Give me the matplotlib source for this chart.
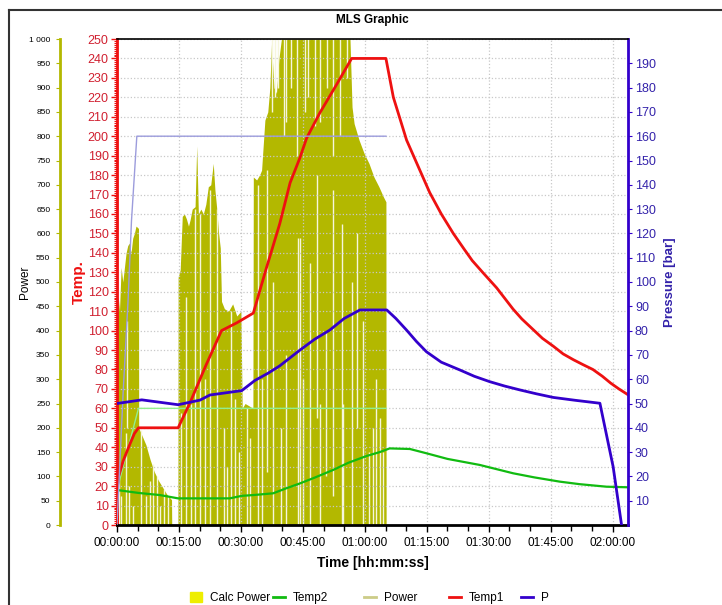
import matplotlib
matplotlib.use("Agg")
import matplotlib.pyplot as plt
from matplotlib.ticker import MultipleLocator, FixedLocator, FuncFormatter
from matplotlib.lines import Line2D
from matplotlib.patches import Patch

plt.rcParams["font.family"] = ["Liberation Sans", "DejaVu Sans"]

# Temp1 [deg] over time [min]
t1_time = [0, 0.1, 0.4, 1.5, 3.0, 4.2, 5.2, 14.8, 17.7, 21.5, 25.3, 29.0, 33.0, 36.0,
           39.4, 41.9, 44.3, 45.9, 49.1, 53.0, 56.8, 65.1, 66.9, 68.5, 70.1, 73.0,
           75.7, 78.5, 81.4, 84.0, 86.0, 88.5, 91.9, 95.9, 98.0, 100.5, 103.0, 105.6,
           108.0, 110.5, 112.8, 115.2, 117.5, 119.5, 121.5, 123.7]
t1_vals = [0, 20, 25, 33, 41, 47, 50, 50, 63, 82, 100, 104, 109, 131,
           155, 176, 189, 199, 212, 226, 240, 240, 220, 209, 198, 184,
           171, 160, 150, 142, 136, 130, 122, 111, 106, 101, 96, 92,
           88, 85, 82.5, 80, 76.5, 73, 70, 67]

# Temp2 [deg]
t2_time = [0, 5.2, 10.4, 14.8, 27.3, 30.2, 33.0, 37.8, 41.0, 44.3, 48.0, 52.3, 56.0,
           60.4, 63.6, 66.0, 70.9, 74.9, 80.0, 87.8, 95.9, 101.0, 107.2, 112.0,
           118.5, 123.7]
t2_vals = [18, 16.5, 15.4, 13.7, 13.7, 15.0, 15.4, 16.3, 18.9, 21.4, 24.5, 28.3, 32.0,
           35.5, 37.5, 39.4, 39.1, 36.9, 34.0, 30.9, 26.6, 24.5, 22.3, 21.0,
           19.7, 19.4]

# P [bar]
p_time = [0, 6.0, 14.8, 20.1, 22.5, 30.2, 33.4, 36.6, 39.4, 44.3, 47.9, 51.5, 55.0,
          58.8, 65.3, 67.5, 70.1, 72.5, 74.9, 78.5, 83.0, 86.5, 90.2, 93.8, 97.5,
          101.5, 105.6, 111.0, 116.9, 120.1, 122.1]
p_vals = [50, 51.5, 49.5, 51.4, 53.5, 55.3, 59.5, 62.5, 65.5, 72, 76.5, 80.2, 85,
          88.5, 88.5, 85, 80.2, 75.5, 71.3, 67, 63.8, 61.2, 59.0, 57.2, 55.6,
          54, 52.5, 51.3, 50.1, 24.0, 0.5]

# setpoints (thin lines)
sp_p_time = [0, 0.5, 1.5, 2.7, 3.5, 4.8, 65.1]
sp_p_vals = [0, 18, 55, 93, 125, 160, 160]
sp_t2_time = [0, 5.2, 65.1]
sp_t2_vals = [18, 60, 60]

# Power [W], upper envelope
pw_time = [0, 0.3, 0.6, 1.0, 1.4, 1.8, 2.2, 2.6, 3.0, 3.4, 3.8, 4.2, 4.6, 5.0, 5.2,
           5.25, 6.0, 7.0, 8.0, 9.0, 10.0, 11.0, 12.0, 13.2, 13.25,
           14.75, 14.8, 15.3, 15.8, 16.3, 16.8, 17.3, 17.7, 18.2, 18.9, 19.3, 19.7,
           20.3, 20.9, 21.5, 22.1, 22.7, 23.3, 23.7, 24.1, 24.6, 25.0, 25.3, 26.0,
           27.0, 28.0, 29.0, 30.0, 30.3, 31.0, 32.0, 32.9, 33.0, 33.8, 34.5, 35.0,
           35.8, 36.5, 37.0, 37.4, 38.0, 38.6, 39.2, 39.8, 56.4, 56.9, 57.4, 58.6,
           59.8, 61.0, 62.2, 63.4, 64.5, 65.1, 65.15]
pw_vals = [430, 470, 440, 530, 500, 530, 560, 575, 580, 560, 590, 600, 615, 612, 610,
           200, 185, 165, 135, 110, 92, 78, 64, 52, 0,
           0, 510, 525, 635, 640, 630, 615, 628, 650, 655, 780, 640,
           650, 640, 660, 696, 700, 744, 690, 655, 600, 570, 460, 445,
           440, 455, 430, 440, 240, 250, 245, 240, 716, 710, 720, 730,
           833, 850, 900, 990, 900, 888, 960, 1000, 1000, 860, 826, 792,
           765, 744, 716, 696, 675, 665, 0]

# dips in the power signal: time, low, high
gap_time = [0.6, 1.0, 2.2, 2.3, 3.0, 3.9,
            5.8, 6.9, 7.9, 8.6, 9.6, 10.5, 11.3, 12.3,
            15.6, 16.7, 17.9, 18.9, 20.1, 21.3, 22.5, 24.1, 25.8, 26.6, 27.7, 28.6,
            29.5, 31.4, 32.2, 34.1, 35.2, 36.2, 37.8, 39.8, 41.0, 43.8, 44.4, 45.0,
            46.7, 48.3, 49.1, 50.5, 52.3, 54.4, 54.8, 56.8, 58.0, 59.6, 61.0, 62.0,
            62.8, 63.6, 64.4,
            37.6, 38.3, 39.0, 40.4, 41.0, 42.0, 43.5, 45.5, 46.3, 47.9, 49.1, 50.8,
            52.3, 54.0, 55.6]
gap_lo = [0, 0, 0, 200, 0, 0,
          0, 0, 0, 0, 0, 0, 0, 0,
          0, 0, 0, 0, 0, 0, 0, 0, 0, 0, 0, 0,
          0, 0, 0, 0, 0, 110, 0, 0, 0, 0, 0, 0,
          0, 220, 0, 100, 60, 0, 0, 0, 200, 0, 0, 0,
          0, 0, 0,
          850, 880, 900, 800, 830, 900, 760, 850, 880, 820, 830, 900,
          760, 800, 920]
gap_hi = [100, 60, 190, 420, 80, 40,
          195, 60, 90, 125, 100, 40, 75, 60,
          230, 470, 250, 650, 640, 300, 690, 650, 200, 120, 440, 260,
          150, 240, 180, 700, 300, 730, 500, 200, 350, 590, 590, 300,
          540, 720, 250, 400, 690, 620, 250, 500, 600, 420, 150, 200,
          300, 220, 150,
          1000, 1000, 1000, 1000, 1000, 1000, 1000, 1000, 1000, 1000, 1000, 1000,
          1000, 1000, 1000]

olive = "#b3b800"
red = "#ee1111"
blue = "#3300cc"
green = "#11bb11"
red_txt = "#d02030"
blue_txt = "#3322aa"


def hms(x, pos):
    m = int(round(x))
    return "%02d:%02d:00" % (m // 60, m % 60)


fig = plt.figure(figsize=(7.22, 6.05), dpi=100)
W, H = 722, 605
ax = fig.add_axes([117 / W, 1 - 525 / H, 511 / W, 486 / H])
ax_w = ax.twinx()
ax_p = ax.twinx()
ax_w.set_zorder(0)
ax.set_zorder(1)
ax_p.set_zorder(2)
ax.patch.set_visible(False)
ax_p.patch.set_visible(False)

# power
ax_w.fill_between(pw_time, 0, pw_vals, color=olive, lw=0)
ax_w.vlines(gap_time, gap_lo, gap_hi, color="#f6f6dc", lw=1.0)
ax_w.set_ylim(0, 1000)
ax_w.set_xlim(0, 123.7)

# temps
ax.plot(sp_t2_time, sp_t2_vals, color="#90ee90", lw=1)
ax.plot(t2_time, t2_vals, color=green, lw=1.6)
ax.plot(t1_time, t1_vals, color=red, lw=2)
ax.set_ylim(0, 250)
ax.set_xlim(0, 123.7)

# pressure
ax_p.plot(sp_p_time, sp_p_vals, color="#9c9cdc", lw=1)
ax_p.plot(p_time, p_vals, color=blue, lw=2)
ax_p.set_ylim(0, 200)
ax_p.set_xlim(0, 123.7)

# grid
ax.xaxis.set_major_locator(MultipleLocator(15))
ax.xaxis.set_minor_locator(MultipleLocator(5))
ax.xaxis.set_major_formatter(FuncFormatter(hms))
ax.yaxis.set_major_locator(MultipleLocator(10))
ax.yaxis.set_minor_locator(MultipleLocator(1))
ax.grid(True, which="major", color="#c8c8c8", linestyle=":", lw=0.9)
ax.tick_params(axis="x", which="major", length=5, width=1, labelsize=8.5, pad=4)
ax.tick_params(axis="x", which="minor", length=4, width=1)
ax.tick_params(axis="y", which="major", length=4, width=1, color=red,
               labelcolor=red_txt, labelsize=9, pad=2)
ax.tick_params(axis="y", which="minor", length=2, width=0.8, color=red)

for s in ["top", "right"]:
    ax.spines[s].set_visible(False)
ax.spines["left"].set_color(red)
ax.spines["left"].set_linewidth(2)
ax.spines["bottom"].set_linewidth(2)
ax.set_ylabel("Temp.", color=red, fontsize=11, fontweight="bold")
ax.yaxis.set_label_coords(-0.060, 0.5)
ax.set_xlabel("Time [hh:mm:ss]", fontsize=10, fontweight="bold", labelpad=5)

# power axis on the far left
for s in ["top", "right", "bottom"]:
    ax_w.spines[s].set_visible(False)
ax_w.spines["left"].set_position(("axes", (60 - 117) / 511))
ax_w.spines["left"].set_color(olive)
ax_w.spines["left"].set_linewidth(2)
ax_w.yaxis.set_ticks_position("left")
ax_w.yaxis.set_label_position("left")
ax_w.yaxis.set_major_locator(MultipleLocator(50))
ax_w.yaxis.set_major_formatter(FuncFormatter(lambda v, p: "1 000" if v >= 1000 else "%d" % v))
ax_w.tick_params(axis="y", length=3, color=olive, labelsize=6, pad=4)
ax_w.set_ylabel("Power", fontsize=8.5)
ax_w.yaxis.set_label_coords(-0.168, 0.5)

# pressure axis
for s in ["left", "bottom"]:
    ax_p.spines[s].set_visible(False)
ax_p.spines["top"].set_linewidth(1.2)
ax_p.spines["right"].set_color(blue)
ax_p.spines["right"].set_linewidth(2)
ax_p.yaxis.set_major_locator(FixedLocator(list(range(10, 200, 10))))
ax_p.tick_params(axis="y", length=3, color=blue, labelcolor=blue_txt, labelsize=9, pad=2)
ax_p.set_ylabel("Pressure [bar]", color=blue_txt, fontsize=9.5, fontweight="bold")
ax_p.yaxis.set_label_coords(1.071, 0.5)

fig.text(372 / W, 1 - 20 / H, "MLS Graphic", ha="center", va="center",
         fontsize=8.5, fontweight="bold")

# outer frame
fig.add_artist(Line2D([9 / W, 1.0], [1 - 10 / H, 1 - 10 / H], color="#333333", lw=1.5))
fig.add_artist(Line2D([9 / W, 9 / W], [0, 1 - 10 / H], color="#333333", lw=1.5))

# legend
legend_items = [
    ("Calc Power", Patch(color="#eeee00"), 190),
    ("Temp2", Line2D([], [], color=green, lw=2), 273),
    ("Power", Line2D([], [], color="#cccc88", lw=2), 364),
    ("Temp1", Line2D([], [], color=red, lw=2), 449),
    ("P", Line2D([], [], color=blue, lw=2), 521),
]
for name, h, xp in legend_items:
    fig.legend(handles=[h], labels=[name], loc="center left",
               bbox_to_anchor=(xp / W, 1 - 598 / H), frameon=False,
               fontsize=8.5, handlelength=1.0, handleheight=1.0,
               handletextpad=0.7, borderpad=0, borderaxespad=0)

fig.savefig("out.png", dpi=100)
